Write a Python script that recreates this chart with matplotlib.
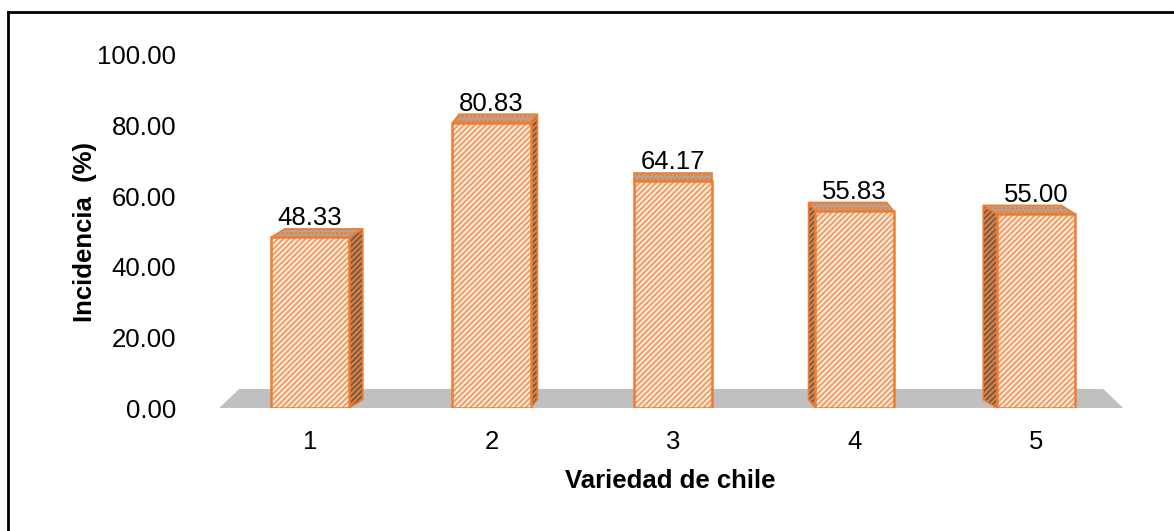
import matplotlib.pyplot as plt
from matplotlib.patches import Polygon
from matplotlib.lines import Line2D

plt.rcParams['font.family'] = ['Liberation Sans', 'DejaVu Sans']
plt.rcParams['hatch.linewidth'] = 1.4

variedades = ['1', '2', '3', '4', '5']
incidencia = [48.33, 80.83, 64.17, 55.83, 55.00]

ORANGE = '#ed7d31'
HATCH = '#f29c62'

fig = plt.figure(figsize=(11.74, 5.31), dpi=100)
ax = fig.add_axes([200 / 1174, 123 / 531, 940 / 1174, 353 / 531])

x = list(range(1, len(variedades) + 1))
w = 0.43
mid = (x[0] + x[-1]) / 2

# floor
fx0, fx1 = x[0] - 0.5, x[-1] + 0.48
ax.add_patch(Polygon([(fx0, 0), (fx1, 0), (fx1 - 0.11, 5.4), (fx0 + 0.11, 5.4)],
                     closed=True, facecolor='#c0c0c0', edgecolor='none', zorder=1))

# fake 3d: side and top faces
dy = 2.4
for xi, v in zip(x, incidencia):
    dx = 0.038 * (mid - xi)
    left, right = xi - w / 2, xi + w / 2
    edge = right if dx > 0 else left
    if abs(dx) > 0.001:
        side = Polygon([(edge, 0), (edge, v), (edge + dx, v + dy), (edge + dx, dy)],
                       closed=True, facecolor='#6a5e57', edgecolor=ORANGE,
                       hatch='//////', lw=1.2, zorder=2)
        ax.add_patch(side)
    top = Polygon([(left, v), (right, v), (right + dx, v + dy), (left + dx, v + dy)],
                  closed=True, facecolor='#b3a59a', edgecolor=ORANGE,
                  hatch='....', lw=1.2, zorder=2)
    ax.add_patch(top)

# front faces
ax.bar(x, incidencia, width=w, color='#fdeee3', edgecolor=HATCH,
       hatch='//////', linewidth=0, zorder=3)
ax.bar(x, incidencia, width=w, color='none', edgecolor=ORANGE,
       linewidth=1.8, zorder=4)

for xi, v in zip(x, incidencia):
    ax.annotate(f'{v:.2f}', (xi, v + dy), xytext=(0, -1), textcoords='offset points',
                ha='center', va='bottom', fontsize=18.5)

ax.set_xlim(x[0] - 110 / 181.5, x[-1] + 104 / 181.5)
ax.set_ylim(0, 100)
ax.set_yticks(range(0, 101, 20))
ax.set_yticklabels([f'{t:.2f}' for t in range(0, 101, 20)], fontsize=18.5)
ax.set_xticks(x)
ax.set_xticklabels(variedades, fontsize=18.5)
ax.tick_params(axis='y', length=0, pad=17)
ax.tick_params(axis='x', length=0, pad=16)
for s in ax.spines.values():
    s.set_visible(False)

ax.set_xlabel('Variedad de chile', fontsize=18.5, fontweight='bold', labelpad=11)
ax.set_ylabel('Incidencia  (%)', fontsize=18.5, fontweight='bold', labelpad=0)

# chart frame (left and top edges visible)
fig.add_artist(Line2D([8 / 1174, 8 / 1174], [0, 1 - 12 / 531], color='black', lw=2))
fig.add_artist(Line2D([8 / 1174, 1], [1 - 12 / 531, 1 - 12 / 531], color='black', lw=2))

fig.savefig('out.png', dpi=100)
